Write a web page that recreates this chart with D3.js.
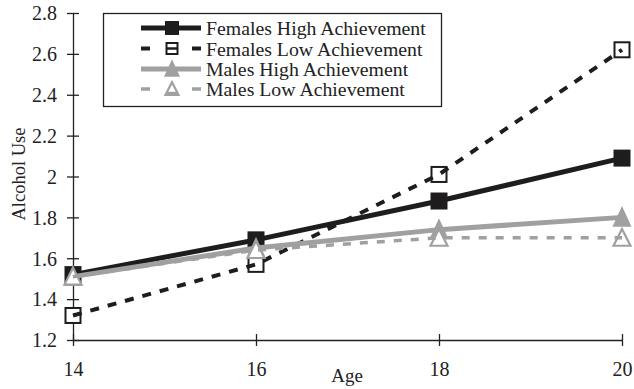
<!DOCTYPE html>
<html><head><meta charset="utf-8">
<script src="https://cdn.jsdelivr.net/npm/d3@7"></script>
<style>body{margin:0;background:#fff}svg{display:block}text{font-family:"Liberation Serif","Times New Roman",serif;fill:#222}</style>
</head><body><svg id="c" width="634" height="389"></svg>
<script>
const ages = [14, 16, 18, 20];
const yTicks = [1.2, 1.4, 1.6, 1.8, 2, 2.2, 2.4, 2.6, 2.8];
const seriesNames = ["Females High Achievement", "Females Low Achievement", "Males High Achievement", "Males Low Achievement"];
const femalesHigh = [1.52, 1.69, 1.88, 2.09];
const femalesLow = [1.32, 1.57, 2.01, 2.62];
const malesHigh = [1.51, 1.65, 1.74, 1.80];
const malesLow = [1.51, 1.64, 1.70, 1.70];

const styles = [
  {color:"#1e1c1d", width:5, dash:null, marker:"square"},
  {color:"#1e1c1d", width:4, dash:"9,9", marker:"openSquare"},
  {color:"#a0a0a0", width:5, dash:null, marker:"triangle"},
  {color:"#a0a0a0", width:3.5, dash:"8,9", marker:"openTriangle"}
];
const data = [femalesHigh, femalesLow, malesHigh, malesLow];

const svg = d3.select("#c");
const x = d3.scaleLinear().domain([14, 20]).range([73, 622]);
const y = d3.scaleLinear().domain([1.2, 2.8]).range([340, 13]);

// axes
const yAx = svg.append("g").attr("transform","translate(73,0)")
  .call(d3.axisLeft(y).tickValues(yTicks).tickFormat(d=>String(+d.toFixed(1))).tickSizeInner(6).tickSizeOuter(0).tickPadding(10));
yAx.selectAll(".tick line").attr("x1",6).attr("x2",-6).attr("stroke","#222").attr("stroke-width",1.3);
yAx.select(".domain").attr("stroke","#222").attr("stroke-width",1.3);
yAx.selectAll("text").attr("font-size",20).attr("font-family","Liberation Serif").attr("fill","#222").attr("dy","0.34em");

const xAx = svg.append("g").attr("transform","translate(0,340)")
  .call(d3.axisBottom(x).tickValues(ages).tickFormat(d3.format("d")).tickSizeInner(6).tickSizeOuter(0).tickPadding(16));
xAx.selectAll(".tick line").attr("y1",-6).attr("y2",6).attr("stroke","#222").attr("stroke-width",1.3);
xAx.select(".domain").attr("stroke","#222").attr("stroke-width",1.3);
xAx.selectAll("text").attr("font-size",20).attr("font-family","Liberation Serif").attr("fill","#222");

svg.append("text").attr("x",347).attr("y",382).attr("text-anchor","middle").attr("font-size",19).text("Age");
svg.append("text").attr("transform","translate(25,174) rotate(-90)").attr("text-anchor","middle").attr("font-size",18.5).text("Alcohol Use");

const line = d3.line().x((d,i)=>x(ages[i])).y(d=>y(d));

function drawMarker(g, type, cx, cy, color, s){
  if(type==="square"){
    g.append("rect").attr("x",cx-s/2).attr("y",cy-s/2).attr("width",s).attr("height",s).attr("fill",color);
  } else if(type==="openSquare"){
    g.append("rect").attr("x",cx-s/2+1).attr("y",cy-s/2+1).attr("width",s-2).attr("height",s-2).attr("fill","#fff").attr("stroke",color).attr("stroke-width",2);
  } else if(type==="triangle"){
    const h=s*1.1;
    g.append("path").attr("d",`M${cx},${cy-h/2-2} L${cx+s/2+1},${cy+h/2} L${cx-s/2-1},${cy+h/2} Z`).attr("fill",color);
  } else {
    const h=s*1.05;
    g.append("path").attr("d",`M${cx},${cy-h/2} L${cx+s/2},${cy+h/2-1} L${cx-s/2},${cy+h/2-1} Z`).attr("fill","#fff").attr("stroke",color).attr("stroke-width",2.2);
  }
}

data.forEach((vals, si)=>{
  const st = styles[si];
  const g = svg.append("g");
  const open = st.marker.startsWith("open");
  if(open) vals.forEach((v,i)=>drawMarker(g, st.marker, x(ages[i]), y(v), st.color, 17));
  g.append("path").datum(vals).attr("d",line).attr("fill","none").attr("stroke",st.color)
    .attr("stroke-width",st.width).attr("stroke-dasharray",st.dash);
  if(!open) vals.forEach((v,i)=>drawMarker(g, st.marker, x(ages[i]), y(v), st.color, 17));
});

// legend
const lg = svg.append("g");
lg.append("rect").attr("x",103.5).attr("y",13.5).attr("width",338).attr("height",93).attr("fill","#fff").attr("stroke","#222").attr("stroke-width",1.3);
const rowsY = [28, 48.5, 69, 89];
seriesNames.forEach((name, i)=>{
  const st = styles[i];
  const ry = rowsY[i];
  const open = st.marker.startsWith("open");
  if(open){
    lg.append("line").attr("x1",141).attr("x2",150).attr("y1",ry).attr("y2",ry).attr("stroke",st.color).attr("stroke-width",st.width);
    lg.append("line").attr("x1",192).attr("x2",201).attr("y1",ry).attr("y2",ry).attr("stroke",st.color).attr("stroke-width",st.width);
    drawMarker(lg, st.marker, 172, ry, st.color, 13);
    if(i===1) lg.append("line").attr("x1",167).attr("x2",177).attr("y1",ry).attr("y2",ry).attr("stroke",st.color).attr("stroke-width",2.5);
    else lg.append("line").attr("x1",167).attr("x2",177).attr("y1",ry+4).attr("y2",ry+4).attr("stroke",st.color).attr("stroke-width",2.5);
  } else {
    lg.append("line").attr("x1",141).attr("x2",201).attr("y1",ry).attr("y2",ry).attr("stroke",st.color).attr("stroke-width",st.width);
    drawMarker(lg, st.marker, 172, ry, st.color, 14);
  }
  lg.append("text").attr("x",206).attr("y",ry+7).attr("font-size",19.8).text(name);
});
</script>
</body></html>
